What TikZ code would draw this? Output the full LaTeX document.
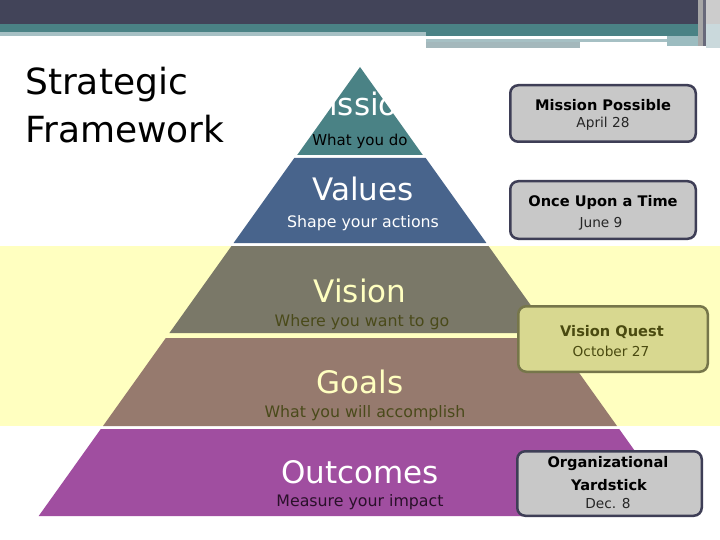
\documentclass[tikz,border=0pt]{standalone}
\usepackage{fontspec}
\setmainfont{DejaVu Sans}
\definecolor{topdark}{HTML}{424459}
\definecolor{teal}{HTML}{4A8285}
\definecolor{lteal}{HTML}{A6C0C4}
\definecolor{gbar}{HTML}{A4B8BC}
\definecolor{rteal}{HTML}{9CBCC0}
\definecolor{band}{HTML}{FFFFC0}
\definecolor{cMission}{HTML}{4A8285}
\definecolor{cValues}{HTML}{48648C}
\definecolor{cVision}{HTML}{7A7868}
\definecolor{cGoals}{HTML}{967A6E}
\definecolor{cOutcomes}{HTML}{A04EA0}
\definecolor{ltext}{HTML}{FFFFC0}
\definecolor{otext}{HTML}{4A4A1A}
\definecolor{ptext}{HTML}{2A102A}
\definecolor{boxfill}{HTML}{C8C8C8}
\definecolor{boxedge}{HTML}{3E3E56}
\definecolor{qfill}{HTML}{D8D890}
\definecolor{qedge}{HTML}{76764A}
\definecolor{qtext}{HTML}{4A4A10}
\begin{document}
\begin{tikzpicture}[x=1pt,y=-1pt,
  head/.style={font=\fontsize{31}{31}\selectfont, inner sep=0pt, anchor=base},
  sub/.style={font=\fontsize{15.8}{16}\selectfont, inner sep=0pt, anchor=base},
  ttl/.style={font=\fontsize{36}{36}\selectfont, inner sep=0pt, anchor=base west},
  boxshape/.style={rectangle, rounded corners=8pt, line width=2.5pt, draw=boxedge, fill=boxfill, inner sep=0pt},
  qshape/.style={boxshape, draw=qedge, fill=qfill},
  btitle/.style={font=\fontsize{14.6}{15}\selectfont\bfseries, inner sep=0pt, anchor=base},
  bdate/.style={font=\fontsize{13.7}{14}\selectfont, inner sep=0pt, anchor=base, text=black!85},
]
\useasboundingbox (0,0) rectangle (720,540);
\fill[white] (0,0) rectangle (720,540);
% top decoration
\fill[topdark] (0,0) rectangle (698,24);
\fill[teal] (0,24) rectangle (698,32);
\fill[teal] (426,32) rectangle (698,36);
\fill[lteal] (0,32) rectangle (426,36);
\fill[lteal] (426,39) rectangle (667,42);
\fill[gbar] (426,42) rectangle (580,48.5);
\fill[rteal] (667,36) rectangle (698,46);
\fill[gray!70] (698,0) rectangle (703,46);
\fill[topdark!80] (703,0) rectangle (706,46);
\fill[gray!40] (706,0) rectangle (720,24);
\fill[lteal!60] (706,24) rectangle (720,48);
% yellow band
\fill[band] (0,246) rectangle (720,426);
% pyramid tiers
\fill[cMission] (360,67) -- (422.8,155) -- (297.2,155) -- cycle;
\fill[cValues] (294.3,158) -- (425.7,158) -- (486.4,243) -- (233.6,243) -- cycle;
\fill[cVision] (231.5,246) -- (488.5,246) -- (550.6,333) -- (169.4,333) -- cycle;
\fill[cGoals] (165.8,338) -- (554.2,338) -- (617,426) -- (103,426) -- cycle;
\fill[cOutcomes] (100.8,429) -- (619.2,429) -- (681.3,516) -- (38.7,516) -- cycle;
% title
\node[ttl] (t1) at (25,95) {Strategic};
\node[ttl] (t2) at (25,143) {Framework};
% pyramid texts
\node[head, text=white] (hm) at (360,116) {Mission};
\node[sub, text=black, font=\fontsize{15}{15}\selectfont] (sm) at (360,146) {What you do};
\node[head, text=white] (hv) at (363,201) {Values};
\node[sub, text=white] (sv) at (363,227) {Shape your actions};
\node[head, text=ltext] (hvi) at (360,302) {Vision};
\node[sub, text=otext] (svi) at (362,326) {Where you want to go};
\node[head, text=ltext] (hg) at (360,393) {Goals};
\node[sub, text=otext] (sg) at (365,417) {What you will accomplish};
\node[head, text=white] (ho) at (360,483) {Outcomes};
\node[sub, text=ptext] (so) at (360,506) {Measure your impact};
% boxes
\node[boxshape, minimum width=185.5pt, minimum height=56.5pt] (b1) at (603,113.5) {};
\node[btitle] (b1t) at (603,111) {Mission Possible};
\node[bdate] (b1d) at (603,128) {April 28};
\node[boxshape, minimum width=185.5pt, minimum height=57.5pt] (b2) at (603,210) {};
\node[btitle] (b2t) at (603,207) {Once Upon a Time};
\node[bdate] (b2d) at (601,227) {June 9};
\node[qshape, minimum width=189.5pt, minimum height=65.5pt] (b3) at (613,339) {};
\node[btitle, text=qtext] (b3t) at (612,336) {Vision Quest};
\node[bdate, text=qtext] (b3d) at (611,356) {October 27};
\node[boxshape, minimum width=184.5pt, minimum height=64.5pt] (b4) at (609.5,483.5) {};
\node[btitle] (b4t) at (608,467) {Organizational};
\node[btitle] (b4y) at (609,490) {Yardstick};
\node[bdate] (b4d) at (608,508) {Dec. 8};
\end{tikzpicture}
\end{document}
